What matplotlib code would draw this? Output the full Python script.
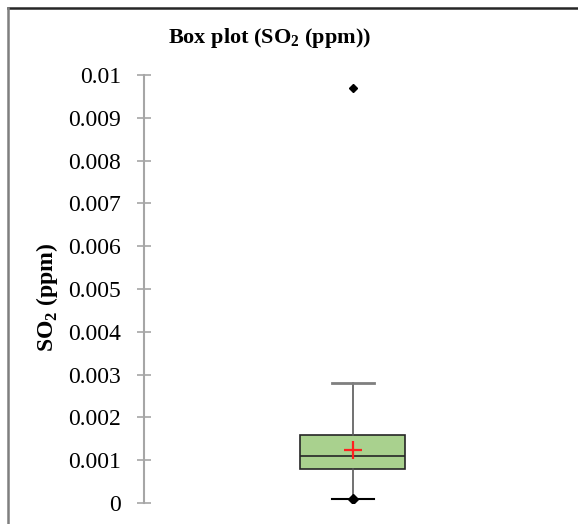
import matplotlib.pyplot as plt
from matplotlib.lines import Line2D

# summary values (ppm)
q1 = 0.0008
median = 0.0011
q3 = 0.0016
mean = 0.00125
whislo = 0.0001
whishi = 0.0028
outliers = [0.0097]
minimum = [0.0001]

yticks = [i * 0.001 for i in range(11)]
ylabels = ['0'] + ['%.3f' % t for t in yticks[1:-1]] + ['0.01']

plt.rcParams['font.family'] = ['Liberation Serif', 'DejaVu Serif']
plt.rcParams['mathtext.fontset'] = 'custom'
plt.rcParams['mathtext.rm'] = 'Liberation Serif'
plt.rcParams['mathtext.bf'] = 'Liberation Serif:bold'

fig = plt.figure(figsize=(5.78, 5.24), dpi=100)
# frame of the chart area (only top and left edges visible)
fig.lines.append(Line2D([8 / 578, 1], [1 - 8 / 524, 1 - 8 / 524],
                        transform=fig.transFigure, color='#262626', linewidth=1.8))
fig.lines.append(Line2D([8 / 578, 8 / 578], [0, 1 - 8 / 524],
                        transform=fig.transFigure, color='#7F7F7F', linewidth=1.8))

ax = fig.add_axes([143.5 / 578, 21 / 524, (562 - 143.5) / 578, 428 / 524])

stats = [dict(med=median, q1=q1, q3=q3, whislo=whislo, whishi=whishi,
              mean=mean, fliers=outliers, label='')]
bp = ax.bxp(stats, positions=[1], widths=[105 / 209.25], showmeans=True,
            patch_artist=True,
            boxprops=dict(facecolor='#A9D18E', edgecolor='#262626', linewidth=1.2),
            medianprops=dict(color='#262626', linewidth=1.2),
            whiskerprops=dict(color='#595959', linewidth=1.2),
            capprops=dict(color='#7F7F7F', linewidth=2),
            capwidths=[42 / 209.25],
            meanprops=dict(marker='+', markeredgecolor='#FF2020', markersize=13,
                           markeredgewidth=1.6),
            flierprops=dict(marker='D', markerfacecolor='black',
                            markeredgecolor='black', markersize=4))
bp['caps'][0].set_color('black')
bp['caps'][0].set_linewidth(1.5)
ax.plot([1], minimum, marker='D', color='black', markersize=5, linestyle='none')

ax.set_xlim(0, 2)
ax.set_ylim(0, 0.01)
ax.set_yticks(yticks)
ax.set_yticklabels(ylabels, fontsize=17)
ax.set_xticks([])
for s in ['top', 'right', 'bottom']:
    ax.spines[s].set_visible(False)
ax.spines['left'].set_color('#A6A6A6')
ax.spines['left'].set_linewidth(1.5)
ax.tick_params(axis='y', direction='inout', length=10, width=1.2,
               color='#A6A6A6', pad=11)
ax.set_ylabel('SO$_\\mathbf{2}$ (ppm)', fontsize=17, fontweight='bold')
ax.yaxis.set_label_coords(-0.2, 0.48)

fig.text(0.467, 0.918, 'Box plot (SO$_\\mathbf{2}$ (ppm))', ha='center',
         fontsize=16, fontweight='bold')

fig.savefig('out.png', dpi=100)
